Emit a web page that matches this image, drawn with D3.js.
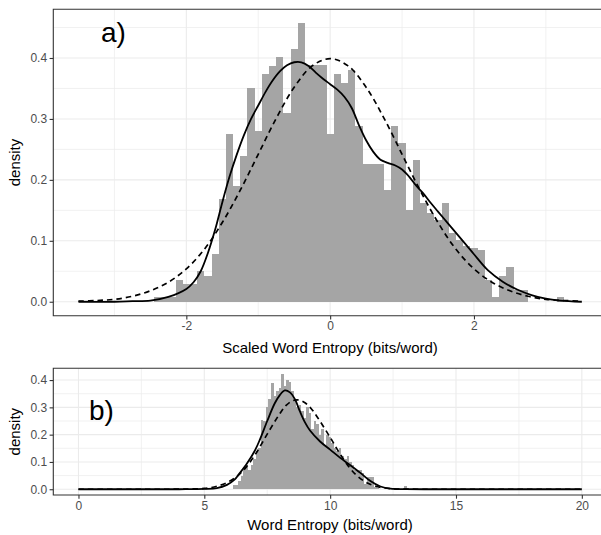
<!DOCTYPE html>
<html>
<head>
<meta charset="utf-8">
<script src="https://cdnjs.cloudflare.com/ajax/libs/d3/7.8.5/d3.min.js"></script>
<style>
body { margin: 0; background: #fff; overflow: hidden; }
svg { display: block; overflow: hidden; }
text { font-family: "Liberation Sans", Arial, Helvetica, sans-serif; }
</style>
</head>
<body>
<div id="chart"></div>
<script>

// a) scaled word entropy, histogram (bin width 0.1)
var binsA = [-2.4, -2.3, -2.2, -2.1, -2.0, -1.9, -1.8, -1.7, -1.6, -1.5, -1.4, -1.3, -1.2, -1.1, -1.0,
    -0.9, -0.8, -0.7, -0.6, -0.5, -0.4, -0.3, -0.2, -0.1, 0.0, 0.1, 0.2, 0.3, 0.4, 0.5, 0.6, 0.7,
    0.8, 0.9, 1.0, 1.1, 1.2, 1.3, 1.4, 1.5, 1.6, 1.7, 1.8, 1.9, 2.0, 2.1, 2.2, 2.3, 2.4, 2.5, 2.6,
    2.7, 2.8, 2.9, 3.0, 3.1, 3.2];
var densA = [0.008, 0.008, 0.008, 0.036, 0.029, 0.029, 0.051, 0.042, 0.078, 0.168, 0.275, 0.190, 0.239, 0.351, 0.281,
    0.373, 0.387, 0.401, 0.310, 0.415, 0.457, 0.388, 0.388, 0.388, 0.276, 0.373, 0.359, 0.381, 0.288, 0.226, 0.226, 0.226,
    0.183, 0.288, 0.260, 0.150, 0.232, 0.162, 0.145, 0.134, 0.162, 0.113, 0.101, 0.091, 0.088, 0.085, 0.036, 0.008, 0.042, 0.057, 0.020,
    0.020, 0, 0, 0, 0, 0.007];

// a) kernel density (solid)
var kdeAx = [-3.5, -3.0, -2.75, -2.5, -2.25, -2.0, -1.9, -1.8, -1.7, -1.6, -1.5, -1.4, -1.3, -1.2, -1.1, -1.0,
    -0.9, -0.8, -0.7, -0.6, -0.5, -0.4, -0.3, -0.2, -0.1, 0.0, 0.1, 0.2, 0.3, 0.4, 0.5, 0.6, 0.7, 0.8, 0.9,
    1.0, 1.1, 1.2, 1.3, 1.4, 1.5, 1.6, 1.7, 1.8, 1.9, 2.0, 2.2, 2.4, 2.6, 2.8, 3.0, 3.2, 3.5];
var kdeAy = [0.000, 0.000, 0.001, 0.002, 0.008, 0.021, 0.032, 0.050, 0.080, 0.118, 0.163, 0.205, 0.241, 0.273, 0.300, 0.322,
    0.344, 0.363, 0.378, 0.388, 0.393, 0.393, 0.387, 0.376, 0.366, 0.357, 0.348, 0.336, 0.318, 0.290, 0.265, 0.246, 0.233, 0.228, 0.224,
    0.217, 0.205, 0.190, 0.177, 0.162, 0.148, 0.134, 0.120, 0.106, 0.092, 0.078, 0.051, 0.033, 0.020, 0.011, 0.005, 0.002, 0.000];

// a) normal reference (dashed)
var normAx = [-3.5, -3.25, -3.0, -2.75, -2.5, -2.25, -2.0, -1.75, -1.5, -1.25, -1.0, -0.75, -0.5, -0.25, 0.0,
    0.25, 0.5, 0.75, 1.0, 1.25, 1.5, 1.75, 2.0, 2.25, 2.5, 2.75, 3.0, 3.25, 3.5];
var normAy = [0.001, 0.002, 0.004, 0.009, 0.018, 0.032, 0.054, 0.086, 0.130, 0.183, 0.242, 0.301, 0.352, 0.387, 0.399,
    0.387, 0.352, 0.301, 0.242, 0.183, 0.130, 0.086, 0.054, 0.032, 0.018, 0.009, 0.004, 0.002, 0.001];

// b) raw word entropy, histogram (bin width 0.1)
var binsB = [6.2, 6.3, 6.4, 6.5, 6.6, 6.7, 6.8, 6.9, 7.0, 7.1, 7.2, 7.3, 7.4, 7.5, 7.6, 7.7, 7.8, 7.9,
    8.0, 8.1, 8.2, 8.3, 8.4, 8.5, 8.6, 8.7, 8.8, 8.9, 9.0, 9.1, 9.2, 9.3, 9.4, 9.5, 9.6, 9.7, 9.8, 9.9,
    10.0, 10.1, 10.2, 10.3, 10.4, 10.5, 10.6, 10.7, 10.8, 10.9, 11.0, 11.1, 11.2, 11.3, 11.4, 11.5, 11.6,
    11.7, 11.8, 11.9, 13.0];
var densB = [0.016, 0.016, 0.030, 0.050, 0.083, 0.083, 0.070, 0.090, 0.110, 0.141, 0.150, 0.254, 0.250, 0.300, 0.330, 0.390, 0.340, 0.360,
    0.370, 0.422, 0.380, 0.400, 0.394, 0.360, 0.330, 0.300, 0.310, 0.285, 0.260, 0.300, 0.280, 0.220, 0.250, 0.240, 0.200, 0.220, 0.160, 0.200,
    0.190, 0.170, 0.150, 0.140, 0.150, 0.120, 0.110, 0.120, 0.100, 0.090, 0.070, 0.070, 0.070, 0.060, 0.020, 0.046, 0.046,
    0.046, 0.010, 0.005, 0.012];

var kdeBx = [0, 2, 4, 5, 5.5, 5.9, 6.2, 6.4, 6.7, 7.0, 7.2, 7.5, 7.8, 8.0, 8.2, 8.4, 8.6, 8.8, 9.0, 9.2,
    9.6, 10.0, 10.4, 10.8, 11.2, 11.6, 12.0, 12.4, 13, 14, 20];
var kdeBy = [0, 0, 0, 0.001, 0.004, 0.016, 0.035, 0.058, 0.095, 0.140, 0.180, 0.250, 0.315, 0.345, 0.362, 0.355, 0.330, 0.285, 0.245, 0.215,
    0.175, 0.145, 0.115, 0.088, 0.060, 0.030, 0.010, 0.002, 0.0005, 0, 0];

var normBx = [0, 2, 3, 4, 4.5, 5, 5.5, 6, 6.5, 7, 7.5, 8, 8.25, 8.5, 8.75, 9, 9.25, 9.5, 10, 10.5, 11, 11.5,
    12, 12.5, 13, 14, 20];
var normBy = [0, 0, 0, 0.0002, 0.0009, 0.003, 0.011, 0.029, 0.064, 0.124, 0.202, 0.277, 0.307, 0.324, 0.327, 0.317, 0.295, 0.263,
    0.190, 0.114, 0.055, 0.022, 0.007, 0.0016, 0.0003, 0, 0];

var ticksAx = [-2, 0, 2], minorAx = [-3, -1, 1, 3];
var ticksAy = [0, 0.1, 0.2, 0.3, 0.4], minorAy = [0.05, 0.15, 0.25, 0.35, 0.45];
var ticksBx = [0, 5, 10, 15, 20], minorBx = [2.5, 7.5, 12.5, 17.5];
var ticksBy = [0, 0.1, 0.2, 0.3, 0.4], minorBy = [0.05, 0.15, 0.25, 0.35];

var width = 601, height = 535;
var left = 53.3, right = 607;   // panel runs past the right edge of the picture

var svg = d3.select("#chart").append("svg")
    .attr("width", width)
    .attr("height", height);

function drawPanel(p) {
    var x = d3.scaleLinear().domain(p.xDomain).range([left, right]);
    var y = d3.scaleLinear().domain(p.yDomain).range([p.bottom, p.top]);

    var g = svg.append("g");
    var clipId = "clip-" + p.name;
    g.append("clipPath").attr("id", clipId)
        .append("rect")
        .attr("x", left).attr("y", p.top)
        .attr("width", width - left).attr("height", p.bottom - p.top);

    var plot = g.append("g").attr("clip-path", "url(#" + clipId + ")");

    // grid
    plot.selectAll("line.minor-x").data(p.minorX).enter().append("line")
        .attr("x1", d => x(d)).attr("x2", d => x(d))
        .attr("y1", p.top).attr("y2", p.bottom)
        .attr("stroke", "#ebebeb").attr("stroke-width", 0.7);
    plot.selectAll("line.minor-y").data(p.minorY).enter().append("line")
        .attr("y1", d => y(d)).attr("y2", d => y(d))
        .attr("x1", left).attr("x2", right)
        .attr("stroke", "#ebebeb").attr("stroke-width", 0.7);
    plot.selectAll("line.major-x").data(p.ticksX).enter().append("line")
        .attr("x1", d => x(d)).attr("x2", d => x(d))
        .attr("y1", p.top).attr("y2", p.bottom)
        .attr("stroke", "#ebebeb").attr("stroke-width", 1.1);
    plot.selectAll("line.major-y").data(p.ticksY).enter().append("line")
        .attr("y1", d => y(d)).attr("y2", d => y(d))
        .attr("x1", left).attr("x2", right)
        .attr("stroke", "#ebebeb").attr("stroke-width", 1.1);

    // histogram
    var half = p.binWidth / 2;
    plot.selectAll("rect.bar").data(p.bins).enter().append("rect")
        .attr("class", "bar")
        .attr("x", d => x(d - half))
        .attr("width", d => x(d + half) - x(d - half))
        .attr("y", (d, i) => y(p.dens[i]))
        .attr("height", (d, i) => y(0) - y(p.dens[i]))
        .attr("fill", "#a5a5a5")
        .attr("shape-rendering", "crispEdges");

    var line = d3.line()
        .x(d => x(d[0]))
        .y(d => y(d[1]))
        .curve(d3.curveCatmullRom);

    plot.append("path")
        .datum(d3.zip(p.normX, p.normY))
        .attr("d", line)
        .attr("fill", "none")
        .attr("stroke", "#000")
        .attr("stroke-width", 1.7)
        .attr("stroke-dasharray", "5.5,4");

    plot.append("path")
        .datum(d3.zip(p.kdeX, p.kdeY))
        .attr("d", line)
        .attr("fill", "none")
        .attr("stroke", "#000")
        .attr("stroke-width", 1.8);

    // border: top, left, bottom (right side is outside the picture)
    g.append("path")
        .attr("d", "M" + right + "," + p.top + "H" + left + "V" + p.bottom + "H" + right)
        .attr("fill", "none").attr("stroke", "#333").attr("stroke-width", 1.1);

    // axes
    var xAxis = g.append("g")
        .attr("transform", "translate(0," + p.bottom + ")")
        .call(d3.axisBottom(x).tickValues(p.ticksX).tickSize(3.7).tickPadding(2.5)
            .tickFormat(d => String(d)));
    var yAxis = g.append("g")
        .attr("transform", "translate(" + left + ",0)")
        .call(d3.axisLeft(y).tickValues(p.ticksY).tickSize(3.7).tickPadding(2.5)
            .tickFormat(d3.format(".1f")));
    [xAxis, yAxis].forEach(function (a) {
        a.select(".domain").remove();
        a.selectAll(".tick line").attr("stroke", "#333").attr("stroke-width", 1.1);
        a.selectAll(".tick text").attr("fill", "#4d4d4d").style("font-size", "12px");
    });

    g.append("text")
        .attr("x", 330).attr("y", p.xTitleY)
        .attr("text-anchor", "middle")
        .style("font-size", "15px")
        .text(p.xTitle);

    g.append("text")
        .attr("transform", "translate(20," + ((p.top + p.bottom) / 2) + ") rotate(-90)")
        .attr("text-anchor", "middle")
        .style("font-size", "15px")
        .text("density");

    g.append("text")
        .attr("x", p.tag[0]).attr("y", p.tag[1])
        .style("font-size", "28px")
        .text(p.tagText);
}

drawPanel({
    name: "a", top: 9.3, bottom: 315.7,
    xDomain: [-3.85, 3.85], yDomain: [-0.0229, 0.4799],
    bins: binsA, dens: densA, binWidth: 0.1,
    kdeX: kdeAx, kdeY: kdeAy, normX: normAx, normY: normAy,
    ticksX: ticksAx, minorX: minorAx, ticksY: ticksAy, minorY: minorAy,
    xTitle: "Scaled Word Entropy (bits/word)", xTitleY: 352.5,
    tag: [101, 41.5], tagText: "a)"
});

drawPanel({
    name: "b", top: 368.3, bottom: 495,
    xDomain: [-1, 21], yDomain: [-0.0211, 0.4431],
    bins: binsB, dens: densB, binWidth: 0.1,
    kdeX: kdeBx, kdeY: kdeBy, normX: normBx, normY: normBy,
    ticksX: ticksBx, minorX: minorBx, ticksY: ticksBy, minorY: minorBy,
    xTitle: "Word Entropy (bits/word)", xTitleY: 529.5,
    tag: [89, 420], tagText: "b)"
});

</script>
</body>
</html>
